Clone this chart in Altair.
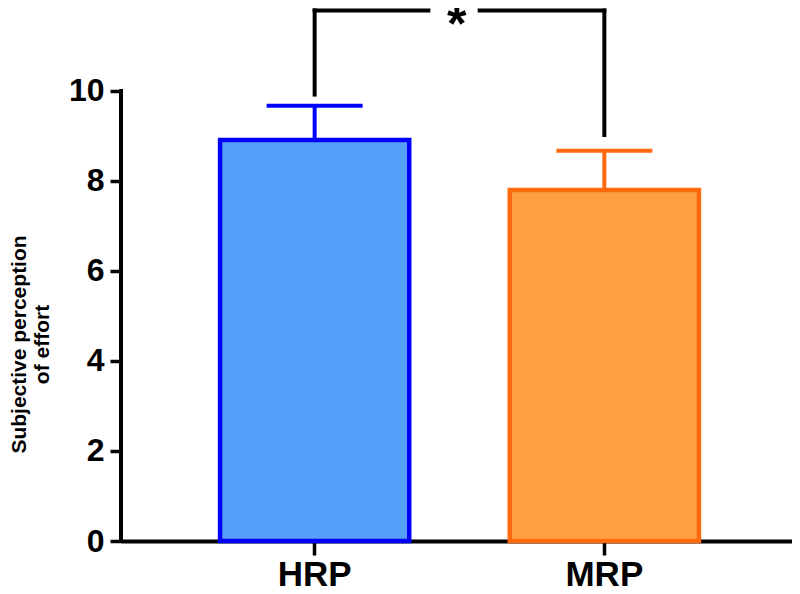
import altair as alt
import pandas as pd

groups = ["HRP", "MRP"]
means = [8.91, 7.80]
sds = [0.76, 0.87]
fill_colors = ["#56A0FD", "#FDA044"]
edge_colors = ["#0000FF", "#FF6A0C"]
y_ticks = [0, 2, 4, 6, 8, 10]
bracket_top = 11.79
bracket_left_end = 9.92
bracket_right_end = 9.02
star_label = "*"

df = pd.DataFrame({"group": groups, "mean": means, "sd": sds})
df["upper"] = df["mean"] + df["sd"]

FONT = "Liberation Sans"

xscale = alt.Scale(domain=groups, paddingInner=0.347, paddingOuter=0.342, range=[0, 677])
yscale = alt.Scale(domain=[0, 11.844], nice=False, zero=True)
fill_scale = alt.Scale(domain=groups, range=fill_colors)
edge_scale = alt.Scale(domain=groups, range=edge_colors)

x_enc = alt.X(
    "group:N", scale=xscale, sort=groups, title=None,
    axis=alt.Axis(labelAngle=0, labelFont=FONT, labelFontSize=35, labelFontWeight="bold",
                  labelColor="black", labelPadding=2, tickSize=14, tickWidth=3.5,
                  tickColor="black", domainColor="black", domainWidth=4),
)
y_enc = alt.Y(
    "mean:Q", scale=yscale,
    title=["Subjective perception", "of effort"],
    axis=alt.Axis(values=y_ticks, domain=False, grid=False, tickColor="black", tickWidth=3.5,
                  tickSize=11, labelFont=FONT, labelFontSize=32, labelFontWeight="bold",
                  labelColor="black", labelPadding=6, titleFont=FONT, titleFontSize=21,
                  titleFontWeight="bold", titleColor="black", titleX=-102, titleY=336,
                  titleAngle=-90, titleBaseline="middle", titleAlign="center",
                  titleLineHeight=23),
)

bars = alt.Chart(df).mark_bar(strokeWidth=4.5).encode(
    x=x_enc,
    y=y_enc,
    fill=alt.Fill("group:N", scale=fill_scale, legend=None),
    stroke=alt.Stroke("group:N", scale=edge_scale, legend=None),
)

err = alt.Chart(df).mark_rule(strokeWidth=4, opacity=1).encode(
    x=alt.X("group:N", scale=xscale, sort=groups),
    y=alt.Y("mean:Q", scale=yscale),
    y2="upper:Q",
    color=alt.Color("group:N", scale=edge_scale, legend=None),
)

caps = alt.Chart(df).mark_tick(thickness=4, size=96, opacity=1).encode(
    x=alt.X("group:N", scale=xscale, sort=groups),
    y=alt.Y("upper:Q", scale=yscale),
    color=alt.Color("group:N", scale=edge_scale, legend=None),
)

yaxis_line = alt.Chart(pd.DataFrame({"y0": [y_ticks[0]], "y1": [y_ticks[-1]]})).mark_rule(
    strokeWidth=4, color="black", strokeCap="square"
).encode(
    x=alt.value(0),
    y=alt.Y("y0:Q", scale=yscale),
    y2="y1:Q",
)

legs = pd.DataFrame({
    "group": groups,
    "low": [bracket_left_end, bracket_right_end],
    "high": [bracket_top, bracket_top],
})
bracket_legs = alt.Chart(legs).mark_rule(strokeWidth=4, color="black", strokeCap="square").encode(
    x=alt.X("group:N", scale=xscale, sort=groups),
    y=alt.Y("low:Q", scale=yscale),
    y2="high:Q",
)

top_df = pd.DataFrame({"a": [groups[0]], "b": [groups[1]], "h": [bracket_top]})
top_left = alt.Chart(top_df).mark_rule(strokeWidth=4, color="black", strokeCap="square", x2Offset=-176).encode(
    x=alt.X("a:N", scale=xscale, sort=groups),
    x2="b:N",
    y=alt.Y("h:Q", scale=yscale),
)
top_right = alt.Chart(top_df).mark_rule(strokeWidth=4, color="black", strokeCap="square", xOffset=165).encode(
    x=alt.X("a:N", scale=xscale, sort=groups),
    x2="b:N",
    y=alt.Y("h:Q", scale=yscale),
)

star = alt.Chart(pd.DataFrame({"a": [groups[0]], "h": [11.12], "t": [star_label]})).mark_text(
    font=FONT, fontSize=50, fontWeight="bold", color="black", baseline="alphabetic",
    align="center", xOffset=142,
).encode(
    x=alt.X("a:N", scale=xscale, sort=groups),
    y=alt.Y("h:Q", scale=yscale),
    text="t:N",
)

chart = alt.layer(
    bars, err, caps, yaxis_line, bracket_legs, top_left, top_right, star
).properties(
    width=671, height=533,
    background="white",
    autosize=alt.AutoSizeParams(type="none"),
    padding={"left": 113, "top": 0, "right": 0, "bottom": 53},
).configure_view(stroke="transparent")

chart.save("out.html", embed_options={"renderer": "svg", "actions": False})
